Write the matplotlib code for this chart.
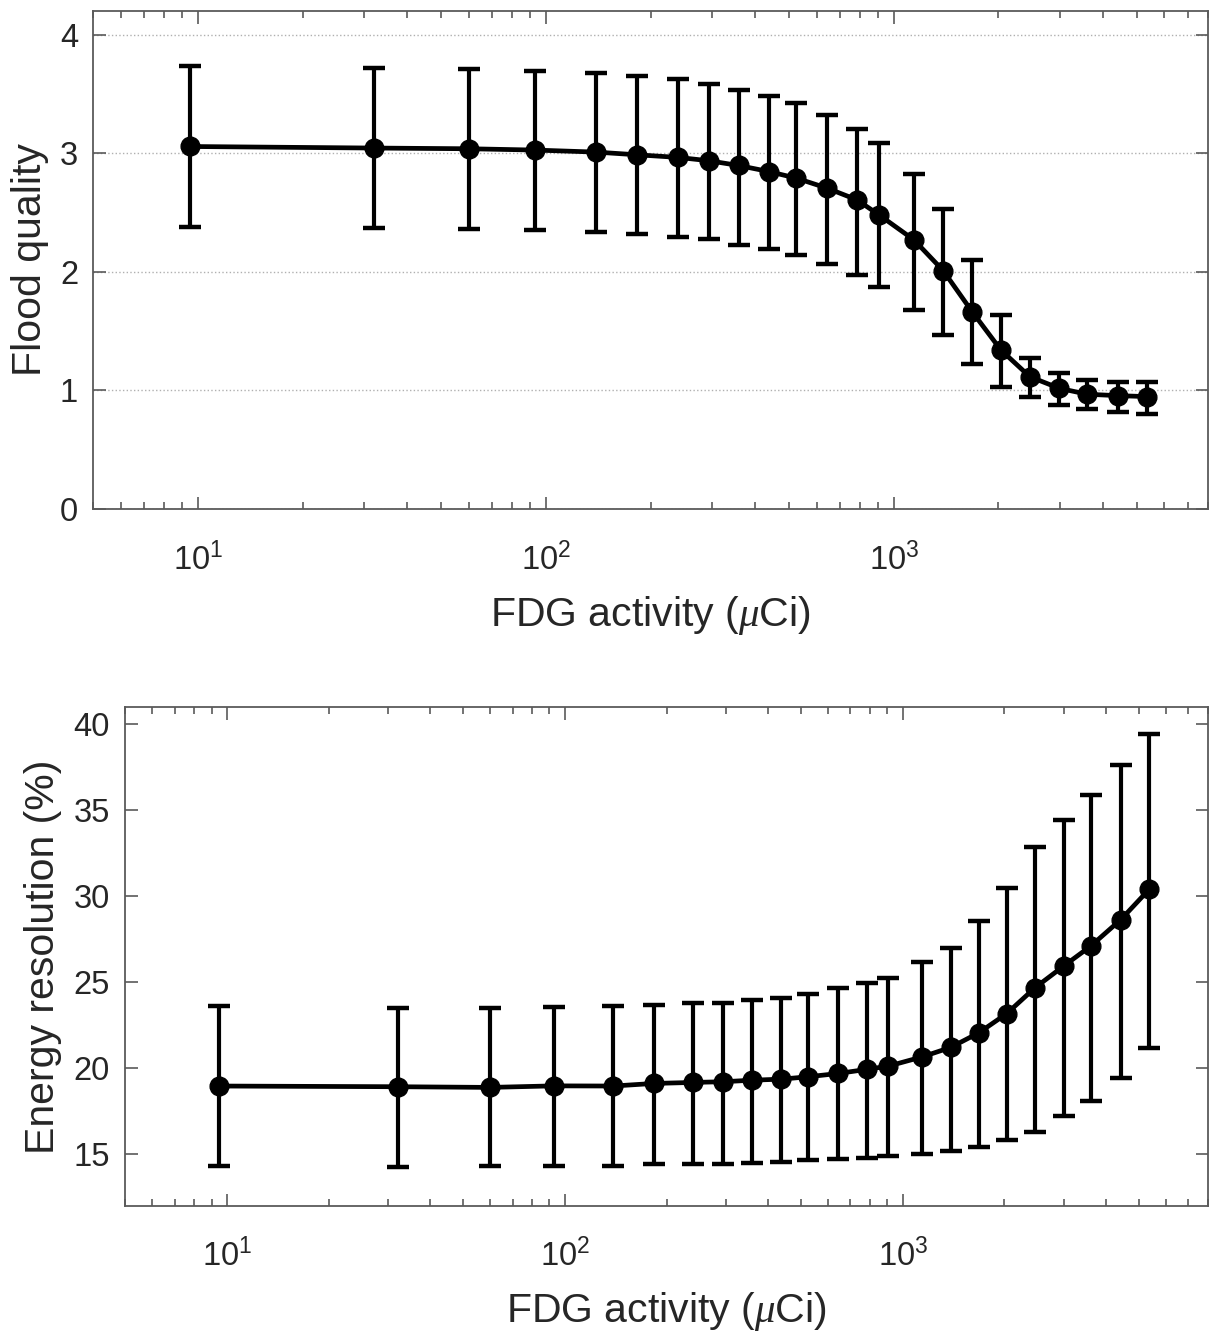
import matplotlib
matplotlib.use("Agg")
import matplotlib.pyplot as plt
import numpy as np
from matplotlib.ticker import LogLocator, FixedLocator, NullFormatter

plt.rcParams['font.family'] = ['Liberation Sans', 'DejaVu Sans']
plt.rcParams['mathtext.fontset'] = 'custom'
plt.rcParams['mathtext.rm'] = 'Liberation Sans'
plt.rcParams['mathtext.it'] = 'Liberation Serif:italic'

# FDG activity (uCi), shared by both panels
activity = [9.5, 32, 60, 93, 139, 183, 240, 294, 358, 437, 525, 643, 783,
            907, 1143, 1387, 1680, 2032, 2462, 2992, 3597, 4421, 5357]

# Flood quality: mean, upper and lower error-bar ends
flood_mean = [3.057, 3.044, 3.038, 3.027, 3.010, 2.987, 2.965, 2.937, 2.897,
              2.846, 2.790, 2.706, 2.608, 2.481, 2.270, 2.011, 1.665, 1.342,
              1.116, 1.018, 0.968, 0.956, 0.948]
flood_hi = [3.738, 3.720, 3.710, 3.696, 3.677, 3.648, 3.626, 3.586, 3.536,
            3.485, 3.420, 3.325, 3.207, 3.086, 2.827, 2.532, 2.101, 1.637,
            1.272, 1.150, 1.089, 1.074, 1.074]
flood_lo = [2.382, 2.369, 2.360, 2.352, 2.335, 2.315, 2.293, 2.276, 2.228,
            2.194, 2.138, 2.065, 1.975, 1.871, 1.679, 1.468, 1.221, 1.032,
            0.943, 0.878, 0.841, 0.821, 0.802]

# Energy resolution (%): mean, upper and lower error-bar ends
eres_mean = [18.96, 18.92, 18.88, 18.97, 18.96, 19.11, 19.17, 19.21, 19.30,
             19.36, 19.50, 19.69, 19.93, 20.12, 20.66, 21.21, 22.06, 23.18,
             24.68, 25.94, 27.10, 28.65, 30.40]
eres_hi = [23.61, 23.51, 23.48, 23.57, 23.61, 23.67, 23.80, 23.77, 23.96,
           24.09, 24.30, 24.67, 24.93, 25.22, 26.19, 27.00, 28.55, 30.46,
           32.85, 34.43, 35.91, 37.66, 39.46]
eres_lo = [14.30, 14.26, 14.32, 14.32, 14.33, 14.40, 14.45, 14.45, 14.49,
           14.55, 14.65, 14.71, 14.79, 14.90, 15.00, 15.17, 15.42, 15.81,
           16.30, 17.23, 18.08, 19.40, 21.18]

flood_ticks = [0, 1, 2, 3, 4]
eres_ticks = [15, 20, 25, 30, 35, 40]

TICK_FS = 23.5
LABEL_FS = 29.5
TXT = '#262626'
SPINE = '#5a5a5a'

fig = plt.figure(figsize=(12.14, 13.35), dpi=100)
ax1 = fig.add_axes([0.0769, 0.6187, 0.918, 0.3731])
ax2 = fig.add_axes([0.1032, 0.0969, 0.8918, 0.3733])


def draw(ax, mean, hi, lo, ylim, yticks, ylabel, grid):
    x = np.array(activity)
    m = np.array(mean)
    err = [m - np.array(lo), np.array(hi) - m]
    ax.errorbar(x, m, yerr=err, color='black', lw=3.4, marker='o', ms=13.5,
                elinewidth=3.0, capsize=8, capthick=3.2, zorder=3)
    ax.set_xscale('log')
    ax.set_xlim(5, 8000)
    ax.set_ylim(*ylim)
    ax.set_yticks(yticks)
    ax.xaxis.set_major_locator(FixedLocator([10, 100, 1000]))
    ax.xaxis.set_minor_locator(LogLocator(base=10, subs=np.arange(2, 10)))
    ax.xaxis.set_minor_formatter(NullFormatter())
    ax.tick_params(which='both', direction='in', top=True, right=True,
                   colors=SPINE, labelcolor=TXT, labelsize=TICK_FS, width=1.2)
    ax.tick_params(which='major', length=9)
    ax.tick_params(which='minor', length=5)
    ax.tick_params(axis='x', which='major', pad=24)
    ax.tick_params(axis='y', which='major', pad=11)
    for s in ax.spines.values():
        s.set_color(SPINE)
        s.set_linewidth(1.3)
    if grid:
        ax.yaxis.grid(True, linestyle=':', color='#b0b0b0', lw=1.0)
        ax.set_axisbelow(True)
    ax.set_xlabel(r'FDG activity ($\mu$Ci)', fontsize=LABEL_FS, color=TXT,
                  labelpad=12)
    ax.set_ylabel(ylabel, fontsize=LABEL_FS, color=TXT, labelpad=8)


draw(ax1, flood_mean, flood_hi, flood_lo, (0, 4.2), flood_ticks,
     'Flood quality', True)
draw(ax2, eres_mean, eres_hi, eres_lo, (12, 41), eres_ticks,
     'Energy resolution (%)', False)

fig.savefig('out.png', dpi=100)
